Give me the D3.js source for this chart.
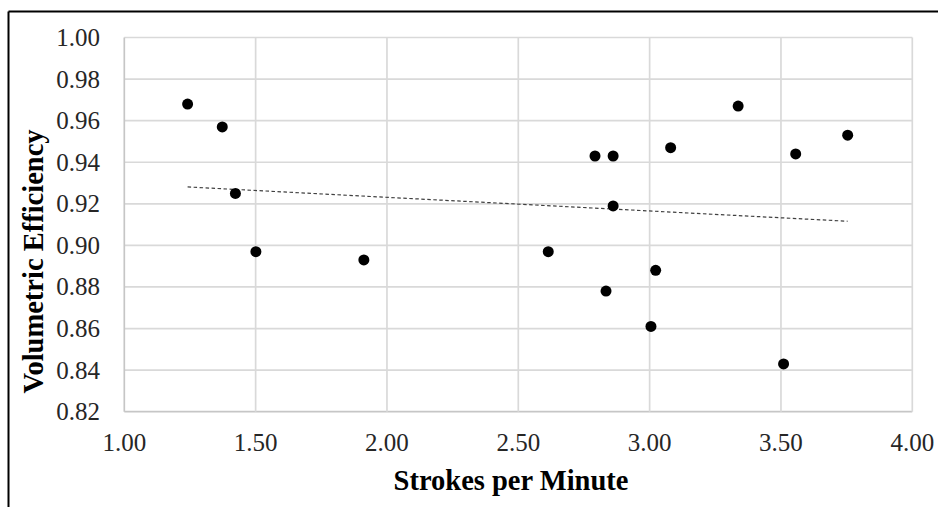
<!DOCTYPE html>
<html lang="en">
<head>
    <meta charset="UTF-8">
    <title>Volumetric Efficiency vs Strokes per Minute</title>
    <script src="https://d3js.org/d3.v7.min.js"></script>
    <style>
        body { margin: 0; background: #fff; }
        svg { display: block; }
        .tick-label { font-family: "Liberation Serif", "Times New Roman", serif; font-size: 25px; fill: #262626; }
        .axis-title { font-family: "Liberation Serif", "Times New Roman", serif; font-size: 28.5px; font-weight: bold; fill: #000; }
    </style>
</head>
<body>
<svg width="938" height="507"></svg>
<script>
    // data
    const strokesPerMinute = [1.241, 1.373, 1.423, 1.501, 1.912, 2.614, 2.792, 2.861, 2.861, 2.834, 3.023, 3.005, 3.510, 3.080, 3.337, 3.556, 3.754];
    const volumetricEff    = [0.968, 0.957, 0.925, 0.897, 0.893, 0.897, 0.943, 0.943, 0.919, 0.878, 0.888, 0.861, 0.843, 0.947, 0.967, 0.944, 0.953];
    const xTicks = [1.0, 1.5, 2.0, 2.5, 3.0, 3.5, 4.0];
    const yTicks = [0.82, 0.84, 0.86, 0.88, 0.90, 0.92, 0.94, 0.96, 0.98, 1.00];

    const width = 938, height = 507;
    const margin = { top: 37.5, right: 25.7, bottom: 95.3, left: 124.3 };
    const svg = d3.select("svg");

    const points = strokesPerMinute.map((x, i) => ({ x, y: volumetricEff[i] }));

    const x = d3.scaleLinear().domain([1, 4]).range([margin.left, width - margin.right]);
    const y = d3.scaleLinear().domain([0.82, 1.0]).range([height - margin.bottom, margin.top]);

    // frame (top and left edge of the cropped figure)
    svg.append("line").attr("x1", 8.5).attr("x2", width).attr("y1", 11.5).attr("y2", 11.5)
        .attr("stroke", "#000").attr("stroke-width", 2);
    svg.append("line").attr("x1", 8.5).attr("x2", 8.5).attr("y1", 11.5).attr("y2", height)
        .attr("stroke", "#000").attr("stroke-width", 2);

    // gridlines
    const grid = svg.append("g");
    grid.selectAll(".hg").data(yTicks).enter().append("line")
        .attr("x1", x(1)).attr("x2", x(4))
        .attr("y1", d => y(d)).attr("y2", d => y(d))
        .attr("stroke", d => d === 0.82 ? "#c6c6c6" : "#d9d9d9").attr("stroke-width", 1.7);
    grid.selectAll(".vg").data(xTicks).enter().append("line")
        .attr("x1", d => x(d)).attr("x2", d => x(d))
        .attr("y1", y(1)).attr("y2", y(0.82))
        .attr("stroke", d => d === 1 ? "#c6c6c6" : "#d9d9d9").attr("stroke-width", 1.7);

    // tick labels
    svg.selectAll(".ylab").data(yTicks).enter().append("text")
        .attr("class", "tick-label")
        .attr("x", 100).attr("y", d => y(d))
        .attr("dy", "0.34em")
        .attr("text-anchor", "end")
        .text(d => d3.format(".2f")(d));
    svg.selectAll(".xlab").data(xTicks).enter().append("text")
        .attr("class", "tick-label")
        .attr("x", d => x(d)).attr("y", 451)
        .attr("text-anchor", "middle")
        .text(d => d3.format(".2f")(d));

    // linear trendline from least squares
    const mx = d3.mean(points, d => d.x), my = d3.mean(points, d => d.y);
    const slope = d3.sum(points, d => (d.x - mx) * (d.y - my)) / d3.sum(points, d => (d.x - mx) ** 2);
    const icpt = my - slope * mx;
    const [x0, x1] = d3.extent(points, d => d.x);
    svg.append("line")
        .attr("x1", x(x0)).attr("y1", y(icpt + slope * x0))
        .attr("x2", x(x1)).attr("y2", y(icpt + slope * x1))
        .attr("stroke", "#404040").attr("stroke-width", 1.2)
        .attr("stroke-dasharray", "3.5,2.5");

    // points
    svg.selectAll(".dot").data(points).enter().append("circle")
        .attr("cx", d => x(d.x)).attr("cy", d => y(d.y))
        .attr("r", 5.5).attr("fill", "#000");

    // axis titles
    svg.append("text").attr("class", "axis-title")
        .attr("x", 511).attr("y", 490)
        .attr("text-anchor", "middle")
        .text("Strokes per Minute");
    svg.append("text").attr("class", "axis-title")
        .attr("transform", "translate(43,261.5) rotate(-90)")
        .attr("text-anchor", "middle")
        .text("Volumetric Efficiency");
</script>
</body>
</html>
